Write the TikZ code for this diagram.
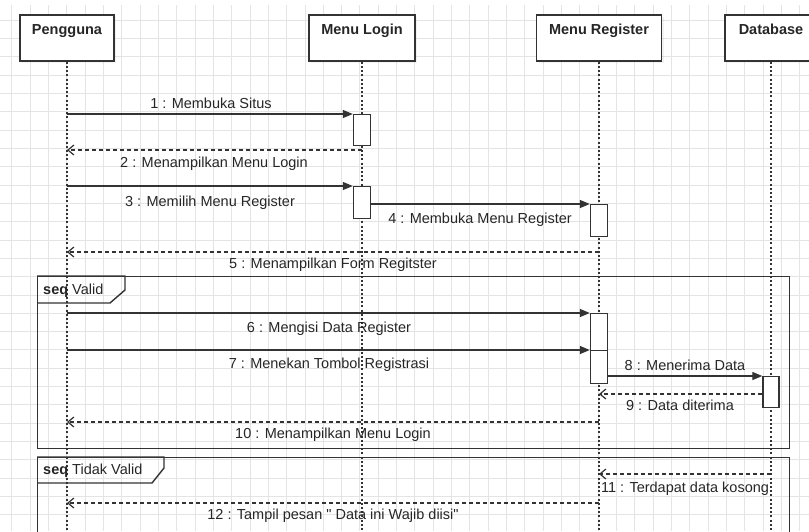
\documentclass[tikz,border=0pt]{standalone}
\usepackage{fontspec}
\setmainfont{Liberation Sans}
\usetikzlibrary{arrows.meta,shadows}

\definecolor{ink}{HTML}{333333}
\definecolor{txt}{HTML}{262626}
\definecolor{gridc}{HTML}{E4E4E4}

\tikzset{
  head/.style={draw=ink, line width=1.8pt, fill=white, anchor=north,
    minimum height=46pt, inner ysep=0pt, text height=20pt, text depth=26pt,
    font=\fontsize{14.5}{17}\selectfont\bfseries, text=txt,
    drop shadow={opacity=0.10, shadow xshift=2pt, shadow yshift=-2pt}},
  lifeline/.style={draw=ink, line width=1.3pt, dash pattern=on 2pt off 2.2pt},
  act/.style={draw=ink, line width=1.4pt, fill=white, anchor=north,
    minimum width=17pt, inner sep=0pt},
  sync/.style={draw=ink, line width=1.3pt, -{Triangle[length=10pt,width=8pt]}},
  ret/.style={draw=ink, line width=1.2pt, dash pattern=on 4pt off 3pt,
    -{Straight Barb[length=6pt,width=10pt,line width=1.2pt]}},
  lbl/.style={anchor=base, inner sep=0pt, text=txt,
    font=\fontsize{14.5}{17}\selectfont},
  frame/.style={draw=ink, line width=1.4pt, anchor=north west, inner sep=0pt},
  tab/.style={draw=ink, line width=1.4pt},
  tablbl/.style={anchor=base west, inner sep=0pt, text=txt,
    font=\fontsize{14.5}{17}\selectfont}
}

\begin{document}
\begin{tikzpicture}[x=1pt, y=-1pt]
  \useasboundingbox (0,0) rectangle (809,531);
  \clip (0,0) rectangle (809,531);
  \fill[white] (0,0) rectangle (809,531);

  % background grid
  \foreach \i in {0,...,43}
    \draw[gridc, line width=0.9pt] ({11.67+18.33*\i},5) -- ({11.67+18.33*\i},531);
  \foreach \j in {0,...,28}
    \draw[gridc, line width=0.9pt] (0,{20+18.33*\j}) -- (809,{20+18.33*\j});

  % lifeline heads
  \node[head, minimum width=94pt]  (peng)  at (67,14)  {Pengguna};
  \node[head, minimum width=106pt] (login) at (362,14) {Menu Login};
  \node[head, minimum width=125pt] (reg)   at (599,14) {Menu Register};
  \node[head, minimum width=92pt]  (db)    at (771,14) {Database};

  % lifeline ends below the page edge
  \coordinate (pengEnd)  at (67,540);
  \coordinate (loginEnd) at (362,540);
  \coordinate (regEnd)   at (599,540);
  \coordinate (dbEnd)    at (771,540);

  \draw[lifeline] (peng.south)  -- (pengEnd);
  \draw[lifeline] (login.south) -- (loginEnd);
  \draw[lifeline] (reg.south)   -- (regEnd);
  \draw[lifeline] (db.south)    -- (dbEnd);

  % combined fragments
  \node[frame, minimum width=752pt, minimum height=172pt] (fValid) at (37,276) {};
  \draw[tab] (fValid.north west) -- ++(88,0) -- ++(0,14) -- ++(-15,13) -- ++(-73,0);
  \node[tablbl] (tValid) at (43,294) {\textbf{seq} Valid};

  \node[frame, minimum width=752pt, minimum height=100pt] (fInvalid) at (37,457) {};
  \draw[tab] (fInvalid.north west) -- ++(127,0) -- ++(0,11) -- ++(-12,15) -- ++(-115,0);
  \node[tablbl] (tInvalid) at (43,474) {\textbf{seq} Tidak Valid};

  % activation bars
  \node[act, minimum height=31pt] (aL1) at (362,114) {};
  \node[act, minimum height=32pt] (aL2) at (362,186) {};
  \node[act, minimum height=32pt] (aR1) at (599,204) {};
  \node[act, minimum height=37pt] (aR2) at (599,313) {};
  \node[act, minimum height=33pt] (aR3) at (599,350) {};
  \node[act, minimum width=16pt, minimum height=31pt] (aD1) at (771,376) {};

  % heights of the reply messages
  \coordinate (y2)  at (0,150);
  \coordinate (y5)  at (0,252);
  \coordinate (y9)  at (0,394);
  \coordinate (y10) at (0,422);
  \coordinate (y11) at (0,474);
  \coordinate (y12) at (0,503);

  % messages
  \draw[sync] (peng.south |- aL1.north) -- (aL1.north west);
  \draw[ret]  (login.south |- y2) -- (peng.south |- y2);
  \draw[sync] (peng.south |- aL2.north) -- (aL2.north west);
  \draw[sync] (aL2.east |- aR1.north) -- (aR1.north west);
  \draw[ret]  (reg.south |- y5) -- (peng.south |- y5);
  \draw[sync] (peng.south |- aR2.north) -- (aR2.north west);
  \draw[sync] (peng.south |- aR3.north) -- (aR3.north west);
  \draw[sync] (aR3.east |- aD1.north) -- (aD1.north west);
  \draw[ret]  (aD1.west |- y9) -- (reg.south |- y9);
  \draw[ret]  (reg.south |- y10) -- (peng.south |- y10);
  \draw[ret]  (db.south |- y11) -- (reg.south |- y11);
  \draw[ret]  (reg.south |- y12) -- (peng.south |- y12);

  % message labels
  \node[lbl] (t1)  at (211,108) {1 : Membuka Situs};
  \node[lbl] (t2)  at (214,167) {2 : Menampilkan Menu Login};
  \node[lbl] (t3)  at (210,206) {3 : Memilih Menu Register};
  \node[lbl] (t4)  at (480,223) {4 : Membuka Menu Register};
  \node[lbl] (t5)  at (333,268) {5 : Menampilkan Form Regitster};
  \node[lbl] (t6)  at (329,332) {6 : Mengisi Data Register};
  \node[lbl] (t7)  at (329,368) {7 : Menekan Tombol Registrasi};
  \node[lbl] (t8)  at (685,370) {8 : Menerima Data};
  \node[lbl] (t9)  at (680,410) {9 : Data diterima};
  \node[lbl] (t10) at (333,438) {10 : Menampilkan Menu Login};
  \node[lbl] (t11) at (685,492) {11 : Terdapat data kosong};
  \node[lbl] (t12) at (333,519) {12 : Tampil pesan \textquotedbl{} Data ini Wajib diisi\textquotedbl};
\end{tikzpicture}
\end{document}
